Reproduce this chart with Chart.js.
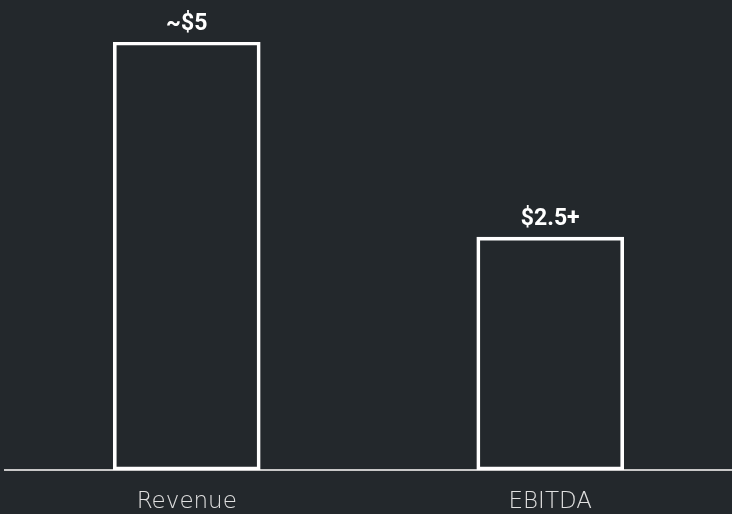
<!DOCTYPE html>
<html>
<head>
<meta charset="utf-8">
<script src="https://cdn.jsdelivr.net/npm/chart.js@4"></script>
<style>
  html, body { margin: 0; padding: 0; background: #23282c; }
  #wrap { width: 732px; height: 514px; }
</style>
</head>
<body>
<div id="wrap"><canvas id="chart"></canvas></div>
<script>
// chart data
const categories = ['Revenue', 'EBITDA'];
const values = [5, 2.72];
const valueLabels = ['~$5', '$2.5+'];

// draws the value text above each bar
const barLabels = {
    id: 'barLabels',
    afterDatasetsDraw(chart) {
        const ctx = chart.ctx;
        const meta = chart.getDatasetMeta(0);
        ctx.save();
        ctx.fillStyle = '#ffffff';
        ctx.font = 'bold 23px Roboto, sans-serif';
        ctx.textAlign = 'center';
        ctx.textBaseline = 'alphabetic';
        meta.data.forEach((bar, i) => {
            ctx.fillText(valueLabels[i], bar.x, bar.y - 12);
        });
        ctx.restore();
    }
};

new Chart(document.getElementById('chart'), {
    type: 'bar',
    data: {
        labels: categories,
        datasets: [{
            data: values,
            backgroundColor: 'rgba(0,0,0,0)',
            borderColor: '#ffffff',
            borderWidth: 3,
            borderSkipped: false,
            barThickness: 147
        }]
    },
    options: {
        responsive: true,
        maintainAspectRatio: false,
        animation: false,
        layout: { padding: { top: 42, left: 5, right: 0, bottom: 0 } },
        plugins: {
            legend: { display: false },
            tooltip: { enabled: false }
        },
        scales: {
            x: {
                afterFit(scale) { scale.height = 44; },
                grid: { display: false, drawTicks: false },
                border: { display: true, color: '#c8c8c8', width: 2 },
                ticks: {
                    color: '#e0e0e0',
                    padding: 18,
                    font: { family: 'DejaVu Sans', size: 23, weight: '200' }
                }
            },
            y: {
                display: false,
                min: 0,
                max: 5
            }
        }
    },
    plugins: [barLabels]
});
</script>
</body>
</html>
